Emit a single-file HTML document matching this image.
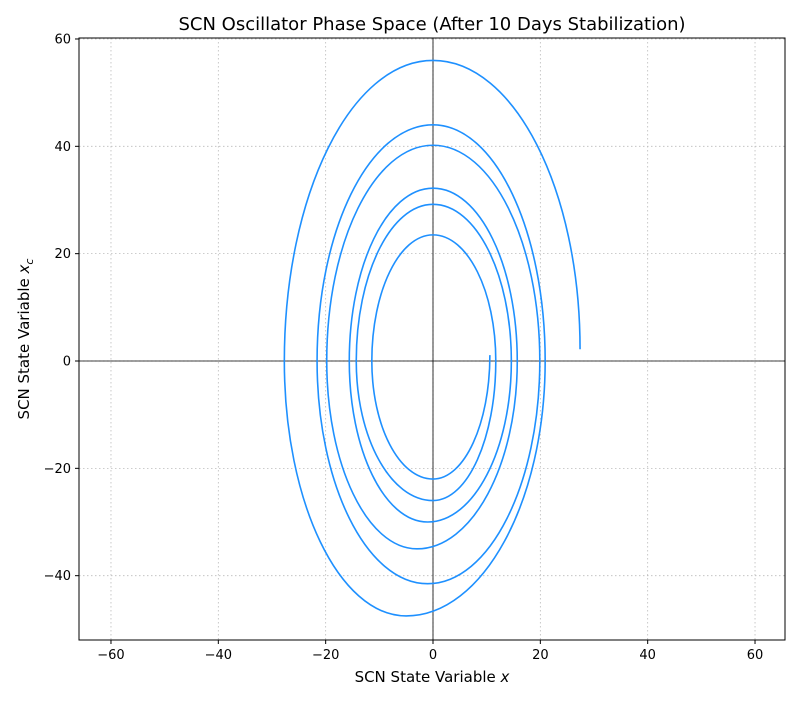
<!DOCTYPE html>
<html><head><meta charset="utf-8"><style>
body{margin:0;background:#fff;font-family:"Liberation Sans","DejaVu Sans",sans-serif}
svg text{font-family:"DejaVu Sans","Liberation Sans",sans-serif}
</style></head><body>
<svg id="chart" width="800" height="700" xmlns="http://www.w3.org/2000/svg">
<rect width="800" height="700" fill="#fff"/>
<g id="grid"></g>
<g id="axes0"></g>
<path id="spiral" fill="none" stroke="#1e90ff" stroke-width="1.6"/>
<rect x="79" y="38" width="706" height="602" fill="none" stroke="#000" stroke-width="1"/>
<g id="ticks" font-size="13"></g>
<text x="432" y="30" text-anchor="middle" font-size="18">SCN Oscillator Phase Space (After 10 Days Stabilization)</text>
<text x="432" y="682" text-anchor="middle" font-size="15">SCN State Variable <tspan font-style="italic">x</tspan></text>
<text transform="translate(29,339) rotate(-90)" text-anchor="middle" font-size="15">SCN State Variable <tspan font-style="italic">x</tspan><tspan font-style="italic" font-size="11" dy="4">c</tspan></text>
</svg>
<script>
const xTicks=[-60,-40,-20,0,20,40,60];
const yTicks=[-40,-20,0,20,40,60];
const rightX=[10.6,11.7,14.6,15.7,19.9,20.9,27.4];
const topY=[23.5,29.2,32.2,40.2,44,56];
const leftX=[-11.4,-14.3,-15.6,-19.8,-21.6,-27.7];
const bottomY=[-22,-26,-30,-35,-41.5,-47.5];
const bottomX=[0,0,-1,-3,-1,-5];
const startY=1.1, endY=2.2;
const sx=v=>433+v*5.367, sy=v=>361-v*5.367;
const NS="http://www.w3.org/2000/svg";
const grid=document.getElementById('grid'), tk=document.getElementById('ticks'), ax=document.getElementById('axes0');
function mk(tag,attrs,parent){const e=document.createElementNS(NS,tag);for(const k in attrs)e.setAttribute(k,attrs[k]);parent.appendChild(e);return e;}
xTicks.forEach(v=>{
  const g=mk('line',{x1:sx(v),x2:sx(v),y1:38,y2:640,stroke:'#bbb','stroke-dasharray':'1.5,2.5','stroke-width':0.8},grid);
  
  
  const t=mk('line',{x1:sx(v),x2:sx(v),y1:640,y2:644,stroke:'#000'},tk);
  
  
  const l=mk('text',{x:sx(v),y:659,'text-anchor':'middle'},tk);l.textContent=(v<0?'\u2212':'')+Math.abs(v);
  
  
});
yTicks.forEach(v=>{
  const g=mk('line',{x1:79,x2:785,y1:sy(v),y2:sy(v),stroke:'#bbb','stroke-dasharray':'1.5,2.5','stroke-width':0.8},grid);
  
  
  const t=mk('line',{x1:75,x2:79,y1:sy(v),y2:sy(v),stroke:'#000'},tk);
  
  
  const l=mk('text',{x:71,y:sy(v)+4.5,'text-anchor':'end'},tk);l.textContent=(v<0?'\u2212':'')+Math.abs(v);
  
  
});
const hx=mk('line',{x1:79,x2:785,y1:sy(0),y2:sy(0),stroke:'#000','stroke-width':0.8},ax);


const vy=mk('line',{x1:sx(0),x2:sx(0),y1:38,y2:640,stroke:'#000','stroke-width':0.8},ax);


const K=0.5523;
let pts=[];
for(let i=0;i<leftX.length;i++){
  pts.push([rightX[i], i===0?startY:0,'r']);
  pts.push([bottomX[i],bottomY[i],'b']);
  pts.push([leftX[i],0,'l']);
  pts.push([0,topY[i],'t']);
}
pts.push([rightX[rightX.length-1],endY,'r']);
let d=`M${sx(pts[0][0])},${sy(pts[0][1])}`;
for(let i=1;i<pts.length;i++){
  const [x0,y0,t0]=pts[i-1],[x1,y1,t1]=pts[i];
  let c1,c2;
  if(t0==='r'||t0==='l'){c1=[x0,y0+K*(y1-y0)];}else{c1=[x0+K*(x1-x0),y0];}
  if(t1==='r'||t1==='l'){c2=[x1,y1+K*(y0-y1)];}else{c2=[x1+K*(x0-x1),y1];}
  d+=` C${sx(c1[0])},${sy(c1[1])} ${sx(c2[0])},${sy(c2[1])} ${sx(x1)},${sy(y1)}`;
}
document.getElementById('spiral').setAttribute('d',d);
</script>
</body></html>
